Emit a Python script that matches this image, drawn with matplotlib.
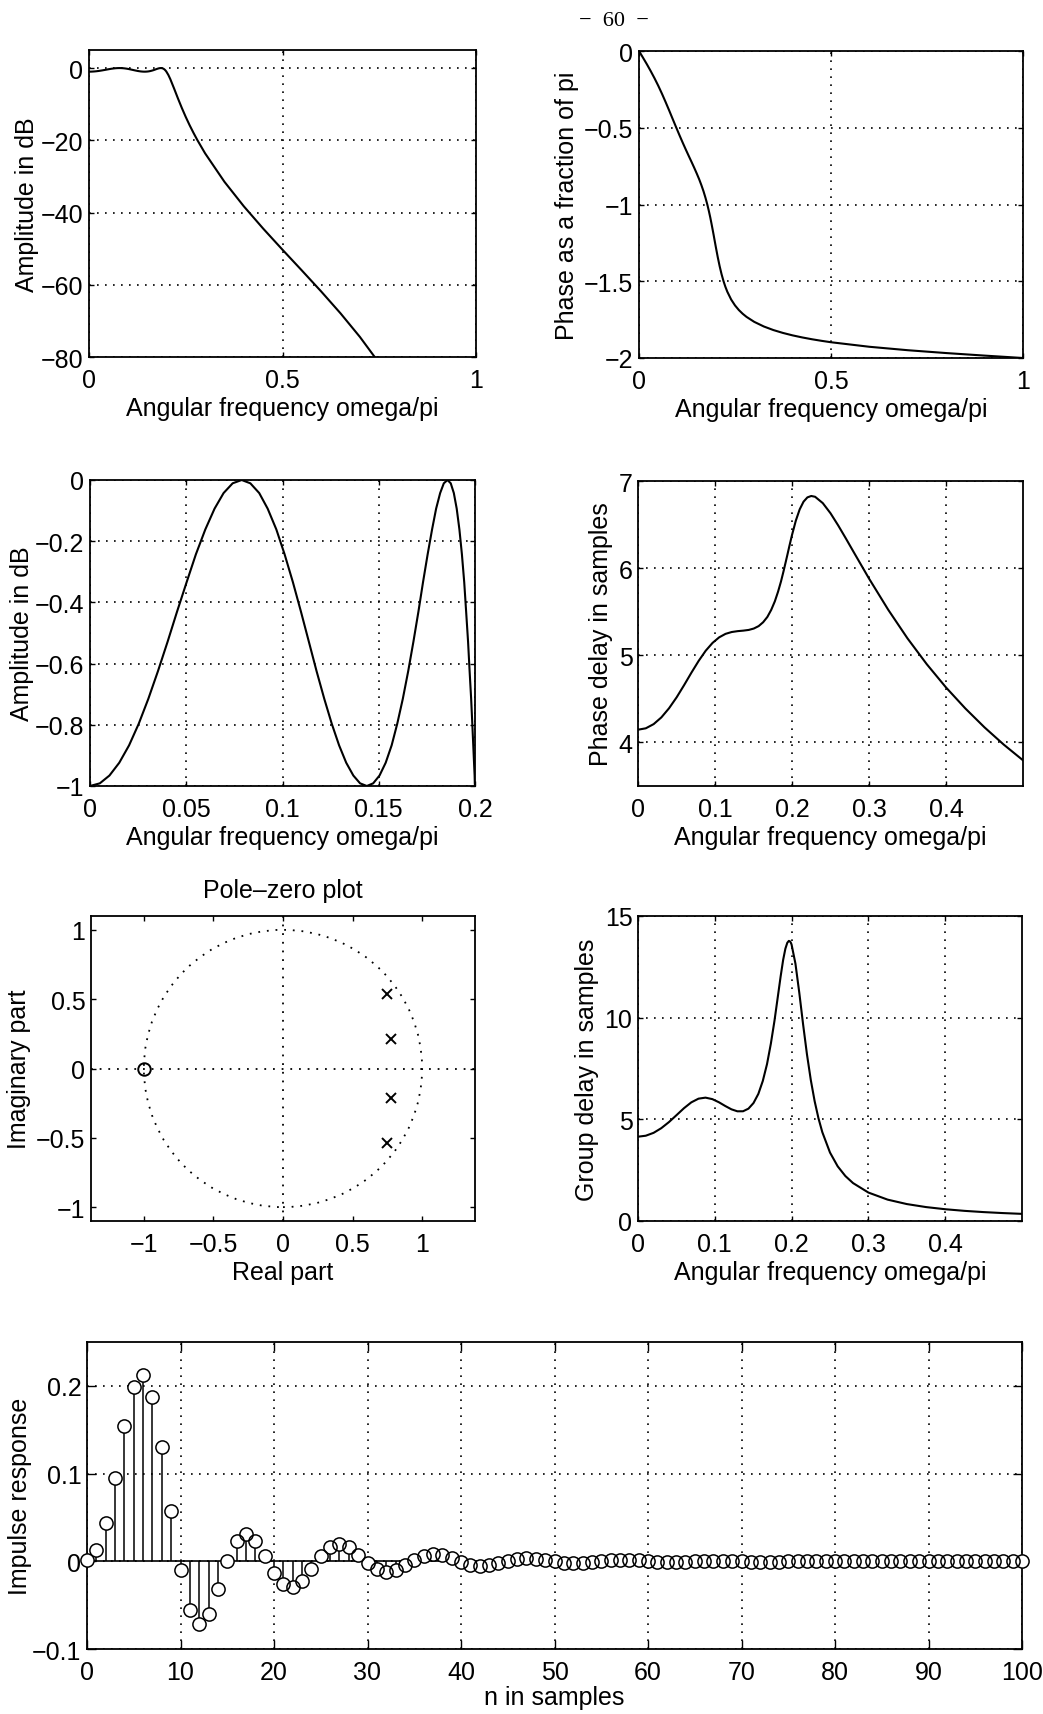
#!/usr/bin/env python3
"""plot.py -- page 60: response summary of a 4th order lowpass design.

Seven MATLAB-looking panels (magnitude, phase, passband detail, phase delay,
pole-zero plot, group delay, impulse response). Values were read off the page.

    python3 plot.py
"""
import matplotlib
matplotlib.use("Agg")
import matplotlib.pyplot as plt
from matplotlib.patches import Circle

plt.rcParams["font.family"] = ["Liberation Sans", "DejaVu Sans"]
plt.rcParams["axes.unicode_minus"] = True

# ---- data --------------------------------------------------------------------
# passband detail, omega/pi vs dB
PASS_W = [0.0000, 0.0051, 0.0101, 0.0152, 0.0203, 0.0253, 0.0303, 0.0353, 0.0403, 0.0452,
          0.0502, 0.0550, 0.0599, 0.0647, 0.0694, 0.0741, 0.0788, 0.0833, 0.0879, 0.0923,
          0.0968, 0.1011, 0.1054, 0.1096, 0.1137, 0.1177, 0.1217, 0.1256, 0.1294, 0.1331,
          0.1368, 0.1403, 0.1438, 0.1471, 0.1504, 0.1536, 0.1567, 0.1596, 0.1625, 0.1653,
          0.1680, 0.1706, 0.1730, 0.1754, 0.1777, 0.1798, 0.1819, 0.1838, 0.1857, 0.1874,
          0.1890, 0.1905, 0.1919, 0.1932, 0.1944, 0.1954, 0.1964, 0.1972, 0.1980, 0.1986,
          0.1991, 0.1995, 0.1998, 0.1999, 0.2000]
PASS_DB = [-1.0000, -0.9913, -0.9658, -0.9240, -0.8671, -0.7968, -0.7151, -0.6247, -0.5287, -0.4305,
           -0.3339, -0.2429, -0.1616, -0.0937, -0.0426, -0.0108, 0.0000, -0.0108, -0.0426, -0.0937,
           -0.1616, -0.2429, -0.3339, -0.4305, -0.5287, -0.6247, -0.7151, -0.7968, -0.8671, -0.9240,
           -0.9658, -0.9913, -1.0000, -0.9913, -0.9658, -0.9240, -0.8671, -0.7968, -0.7151, -0.6247,
           -0.5287, -0.4305, -0.3339, -0.2429, -0.1616, -0.0937, -0.0426, -0.0108, 0.0000, -0.0108,
           -0.0426, -0.0937, -0.1616, -0.2429, -0.3339, -0.4305, -0.5287, -0.6247, -0.7151, -0.7968,
           -0.8671, -0.9240, -0.9658, -0.9913, -1.0000]

# rest of the magnitude curve (transition + stopband)
STOP_W = [0.205, 0.21, 0.22, 0.23, 0.24, 0.25, 0.26, 0.27, 0.28, 0.30,
          0.35, 0.40, 0.45, 0.50, 0.55, 0.60, 0.65, 0.70, 0.75]
STOP_DB = [-1.90, -3.04, -5.70, -8.45, -11.08, -13.54, -15.82, -17.94, -19.94, -23.61,
           -31.49, -38.27, -44.44, -50.30, -56.04, -61.86, -67.92, -74.44, -81.71]

# phase as a fraction of pi
PHASE_W = [0.0, 0.0101, 0.0203, 0.0303, 0.0403, 0.0502, 0.0599, 0.0694, 0.0788, 0.0879,
           0.0968, 0.1054, 0.1137, 0.1217, 0.1294, 0.1368, 0.1438, 0.1504, 0.1567, 0.1625,
           0.1680, 0.1730, 0.1777, 0.1819, 0.1857, 0.1890, 0.1919, 0.1944, 0.1964, 0.1991,
           0.2000, 0.205, 0.21, 0.215, 0.22, 0.225, 0.23, 0.24, 0.25, 0.26,
           0.27, 0.28, 0.30, 0.325, 0.35, 0.375, 0.40, 0.425, 0.45, 0.475,
           0.50, 0.60, 0.70, 0.80, 0.90, 1.00]
PHASE_PI = [0.0, -0.0422, -0.0853, -0.1300, -0.1770, -0.2266, -0.2789, -0.3332, -0.3887, -0.4439,
            -0.4976, -0.5486, -0.5964, -0.6411, -0.6829, -0.7225, -0.7607, -0.7982, -0.8357, -0.8741,
            -0.9139, -0.9553, -0.9983, -1.0421, -1.0856, -1.1273, -1.1654, -1.1989, -1.2267, -1.2638,
            -1.2761, -1.3420, -1.4018, -1.4540, -1.4986, -1.5363, -1.5683, -1.6191, -1.6574, -1.6875,
            -1.7118, -1.7321, -1.7644, -1.7946, -1.8180, -1.8368, -1.8526, -1.8660, -1.8777, -1.8880,
            -1.8973, -1.9269, -1.9493, -1.9678, -1.9844, -2.0]

# phase delay in samples
PD_W = [0.0, 0.0101, 0.0203, 0.0303, 0.0403, 0.0502, 0.0599, 0.0694, 0.0788, 0.0879,
        0.0968, 0.1054, 0.1137, 0.1217, 0.1294, 0.1368, 0.1438, 0.1504, 0.1567, 0.1625,
        0.1680, 0.1730, 0.1777, 0.1819, 0.1857, 0.1890, 0.1919, 0.1944, 0.1964, 0.1991,
        0.2000, 0.205, 0.21, 0.215, 0.22, 0.225, 0.23, 0.24, 0.25, 0.26,
        0.27, 0.28, 0.30, 0.325, 0.35, 0.375, 0.40, 0.425, 0.45, 0.475,
        0.50]
PHASE_DELAY = [4.146, 4.162, 4.210, 4.287, 4.392, 4.518, 4.658, 4.801, 4.936, 5.052,
               5.142, 5.206, 5.246, 5.267, 5.277, 5.283, 5.291, 5.307, 5.335, 5.379,
               5.440, 5.521, 5.619, 5.730, 5.847, 5.964, 6.073, 6.168, 6.246, 6.347,
               6.380, 6.546, 6.675, 6.763, 6.812, 6.828, 6.819, 6.746, 6.630, 6.490,
               6.340, 6.186, 5.881, 5.522, 5.194, 4.898, 4.631, 4.391, 4.173, 3.975,
               3.795]

# group delay in samples
GD_W = [0.0, 0.0101, 0.0203, 0.0303, 0.0403, 0.0502, 0.0599, 0.0694, 0.0788, 0.0879,
        0.0968, 0.1054, 0.1137, 0.1217, 0.1294, 0.1368, 0.1438, 0.1504, 0.1567, 0.1625,
        0.1680, 0.1730, 0.1777, 0.1819, 0.1857, 0.1890, 0.1919, 0.1944, 0.1964, 0.1980,
        0.1991, 0.1998, 0.2000, 0.205, 0.21, 0.215, 0.22, 0.225, 0.23, 0.235,
        0.24, 0.25, 0.26, 0.27, 0.28, 0.30, 0.325, 0.35, 0.375, 0.40,
        0.425, 0.45, 0.475, 0.50]
GROUP_DELAY = [4.146, 4.194, 4.336, 4.565, 4.865, 5.208, 5.549, 5.835, 6.017, 6.067,
               5.994, 5.839, 5.654, 5.492, 5.395, 5.397, 5.525, 5.802, 6.251, 6.888,
               7.718, 8.723, 9.845, 10.986, 12.022, 12.843, 13.393, 13.684, 13.775, 13.749,
               13.678, 13.613, 13.589, 12.657, 11.229, 9.662, 8.196, 6.934, 5.893, 5.049,
               4.368, 3.366, 2.689, 2.212, 1.865, 1.399, 1.051, 0.833, 0.685, 0.579,
               0.499, 0.438, 0.390, 0.351]

# pole-zero plot (all four zeros sit at -1)
ZERO_RE = [-1.0]
ZERO_IM = [0.0]
POLE_RE = [0.7498, 0.7498, 0.7774, 0.7774]
POLE_IM = [0.5348, -0.5348, 0.2120, -0.2120]

# impulse response, n = 0..100
N_SAMPLES = list(range(101))
IMPULSE = [
    0.0018, 0.0129, 0.0435, 0.0949, 0.1538, 0.1989, 0.2122, 0.1870, 0.1298, 0.0573,
    -0.0100, -0.0556, -0.0715, -0.0600, -0.0314, 0.0004, 0.0234, 0.0310, 0.0232, 0.0058,
    -0.0132, -0.0263, -0.0292, -0.0220, -0.0085, 0.0060, 0.0164, 0.0198, 0.0160, 0.0076,
    -0.0020, -0.0092, -0.0119, -0.0100, -0.0048, 0.0013, 0.0061, 0.0080, 0.0068, 0.0034,
    -0.0007, -0.0039, -0.0053, -0.0047, -0.0025, 0.0002, 0.0024, 0.0035, 0.0031, 0.0018,
    0.0000, -0.0015, -0.0023, -0.0021, -0.0012, -0.0001, 0.0010, 0.0015, 0.0014, 0.0009,
    0.0001, -0.0006, -0.0010, -0.0009, -0.0006, -0.0001, 0.0004, 0.0006, 0.0006, 0.0004,
    0.0000, -0.0003, -0.0004, -0.0004, -0.0003, 0.0000, 0.0002, 0.0003, 0.0003, 0.0002,
    0.0000, -0.0001, -0.0002, -0.0002, -0.0001, 0.0000, 0.0001, 0.0001, 0.0001, 0.0001,
    0.0000, -0.0001, -0.0001, -0.0001, -0.0001, 0.0000, 0.0000, 0.0000, 0.0000, 0.0000,
    0.0000,
]

# ticks
AMP_XTICKS = [0, 0.5, 1]
AMP_YTICKS = [-80, -60, -40, -20, 0]
PHASE_YTICKS = [-2, -1.5, -1, -0.5, 0]
PASS_XTICKS = [0, 0.05, 0.1, 0.15, 0.2]
PASS_YTICKS = [-1, -0.8, -0.6, -0.4, -0.2, 0]
DELAY_XTICKS = [0, 0.1, 0.2, 0.3, 0.4]
PD_YTICKS = [4, 5, 6, 7]
GD_YTICKS = [0, 5, 10, 15]
PZ_TICKS = [-1, -0.5, 0, 0.5, 1]
IMP_XTICKS = list(range(0, 101, 10))
IMP_YTICKS = [-0.1, 0, 0.1, 0.2]

FREQ_LABEL = "Angular frequency omega/pi"

# ---- style -------------------------------------------------------------------
W, H = 1043, 1715
FS = 18
CURVE_LW = 1.5
DOTS = (0, (1, 3.8))
GRID = dict(color="black", linestyle=DOTS, linewidth=1.2)


def box(x0, y0, x1, y1):
    """Pixel box on the page -> figure fraction rect."""
    return [x0 / W, 1 - y1 / H, (x1 - x0) / W, (y1 - y0) / H]


def lab(v):
    return ("%g" % v).replace("-", "\u2212")


def style_axes(ax, xticks, yticks, ticklen=3.6, grid=True):
    ax.set_xticks(xticks)
    ax.set_xticklabels([lab(v) for v in xticks])
    ax.set_yticks(yticks)
    ax.set_yticklabels([lab(v) for v in yticks])
    ax.tick_params(direction="in", top=True, right=True, length=ticklen,
                   width=1.0, labelsize=FS, pad=8, colors="black")
    ax.tick_params(axis="y", pad=4)
    for sp in ax.spines.values():
        sp.set_linewidth(1.3)
        sp.set_color("black")
    if grid:
        ax.grid(True, **GRID)
    ax.set_axisbelow(False)


def main():
    fig = plt.figure(figsize=(W / 100, H / 100), dpi=100)
    fig.patch.set_facecolor("white")

    # magnitude response
    ax = fig.add_axes(box(89, 51, 476, 358))
    ax.plot(PASS_W + STOP_W, PASS_DB + STOP_DB, color="black", lw=CURVE_LW)
    ax.set_xlim(0, 1)
    ax.set_ylim(-80, 5)
    style_axes(ax, AMP_XTICKS, AMP_YTICKS)
    ax.set_xlabel(FREQ_LABEL, fontsize=FS, labelpad=3)
    ax.set_ylabel("Amplitude in dB", fontsize=FS, labelpad=1)

    # phase
    ax = fig.add_axes(box(639, 52, 1023, 359))
    ax.plot(PHASE_W, PHASE_PI, color="black", lw=CURVE_LW)
    ax.set_xlim(0, 1)
    ax.set_ylim(-2, 0)
    style_axes(ax, AMP_XTICKS, PHASE_YTICKS)
    ax.set_xlabel(FREQ_LABEL, fontsize=FS, labelpad=3)
    ax.set_ylabel("Phase as a fraction of pi", fontsize=FS)

    # passband detail
    ax = fig.add_axes(box(90, 481, 475, 787))
    ax.plot(PASS_W, PASS_DB, color="black", lw=CURVE_LW)
    ax.set_xlim(0, 0.2)
    ax.set_ylim(-1, 0)
    style_axes(ax, PASS_XTICKS, PASS_YTICKS)
    ax.set_xlabel(FREQ_LABEL, fontsize=FS, labelpad=3)
    ax.set_ylabel("Amplitude in dB", fontsize=FS, labelpad=1)

    # phase delay
    ax = fig.add_axes(box(638, 482, 1023, 787))
    ax.plot(PD_W, PHASE_DELAY, color="black", lw=CURVE_LW)
    ax.set_xlim(0, 0.5)
    ax.set_ylim(3.5, 7)
    style_axes(ax, DELAY_XTICKS, PD_YTICKS)
    ax.set_xlabel(FREQ_LABEL, fontsize=FS, labelpad=3)
    ax.set_ylabel("Phase delay in samples", fontsize=FS)

    # pole-zero plot
    ax = fig.add_axes(box(91, 917, 475, 1222))
    ax.add_patch(Circle((0, 0), 1, fill=False, edgecolor="black",
                        linestyle=DOTS, linewidth=1.3))
    ax.axhline(0, color="black", linestyle=DOTS, linewidth=1.3)
    ax.axvline(0, color="black", linestyle=DOTS, linewidth=1.3)
    ax.plot(ZERO_RE, ZERO_IM, "o", ms=9, mfc="none", mec="black", mew=1.4)
    ax.plot(POLE_RE, POLE_IM, "x", ms=7.5, color="black", mew=1.4)
    ax.set_xlim(-1.38, 1.38)
    ax.set_ylim(-1.1, 1.1)
    style_axes(ax, PZ_TICKS, PZ_TICKS, grid=False)
    ax.set_xlabel("Real part", fontsize=FS, labelpad=3)
    ax.set_ylabel("Imaginary part", fontsize=FS)
    ax.set_title("Pole\u2013zero plot", fontsize=FS, pad=14)

    # group delay
    ax = fig.add_axes(box(638, 917, 1022, 1222))
    ax.plot(GD_W, GROUP_DELAY, color="black", lw=CURVE_LW)
    ax.set_xlim(0, 0.5)
    ax.set_ylim(0, 15)
    style_axes(ax, DELAY_XTICKS, GD_YTICKS)
    ax.set_xlabel(FREQ_LABEL, fontsize=FS, labelpad=3)
    ax.set_ylabel("Group delay in samples", fontsize=FS)

    # impulse response (stems, hollow circles)
    ax = fig.add_axes(box(87, 1343, 1022, 1650))
    ax.vlines(N_SAMPLES, 0, IMPULSE, color="black", lw=1.1, zorder=2)
    ax.axhline(0, color="black", lw=1.2, zorder=2)
    ax.plot(N_SAMPLES, IMPULSE, "o", ms=9.5, mfc="white", mec="none",
            zorder=3, clip_on=False)
    ax.plot(N_SAMPLES, IMPULSE, "o", ms=9.5, mfc="none", mec="black",
            mew=1.1, zorder=4, clip_on=False)
    ax.set_xlim(0, 100)
    ax.set_ylim(-0.1, 0.25)
    style_axes(ax, IMP_XTICKS, IMP_YTICKS, ticklen=6.5)
    ax.set_xlabel("n in samples", fontsize=FS, labelpad=1)
    ax.set_ylabel("Impulse response", fontsize=FS, labelpad=0)

    # page number
    fig.text(614 / W, 1 - 21 / H, "\u2212  60  \u2212", family="Liberation Serif",
             fontsize=16, ha="center", va="center")

    fig.savefig("out.png", dpi=100, facecolor="white")
    plt.close(fig)


if __name__ == "__main__":
    main()
